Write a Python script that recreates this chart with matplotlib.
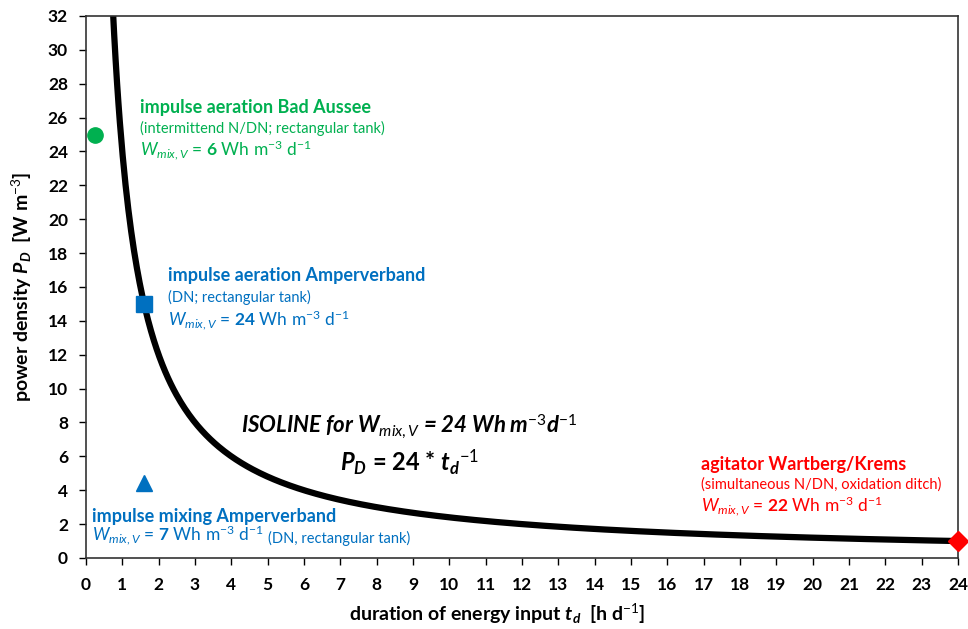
import matplotlib
matplotlib.use("Agg")
import matplotlib.pyplot as plt
import numpy as np

plt.rcParams["font.family"] = ["Lato", "DejaVu Sans"]
plt.rcParams["mathtext.fontset"] = "custom"
plt.rcParams["mathtext.rm"] = "Lato"
plt.rcParams["mathtext.it"] = "Lato:italic"
plt.rcParams["mathtext.bf"] = "Lato:bold"
try:
    plt.rcParams["mathtext.bfit"] = "Lato:italic:bold"
    BFIT = r"\mathbfit"
except KeyError:
    BFIT = r"\mathbf"

# isoline W_mix,V = 24 Wh m-3 d-1  ->  P_D = 24 / t_d
W_ISO = 24
t_iso = np.linspace(0.7, 24, 600)
p_iso = W_ISO / t_iso

# measured plants (t_d [h/d], P_D [W/m3])
sites = ["Bad Aussee", "Amperverband aeration", "Amperverband mixing", "Wartberg/Krems"]
site_t = [0.25, 1.6, 1.6, 24.0]
site_p = [25.0, 15.0, 4.4, 1.0]
site_w = [6, 24, 7, 22]
site_marker = ["o", "s", "^", "D"]
site_color = ["#00b050", "#0070c0", "#0070c0", "#ff0000"]

x_ticks = list(range(0, 25))
y_ticks = list(range(0, 33, 2))

GREEN, BLUE, RED = "#00b050", "#0070c0", "#ff0000"


def wmix(w):
    return r"$W_{mix,V}$ = $\mathbf{%d}$ Wh m$^{-3}$ d$^{-1}$" % w


fig = plt.figure(figsize=(9.68, 6.29), dpi=100)
ax = fig.add_axes([0.0888, 0.1129, 0.9009, 0.8617])

ax.plot(t_iso, p_iso, color="black", lw=4.5, solid_capstyle="butt", zorder=2)

for t, p, m, c in zip(site_t, site_p, site_marker, site_color):
    ax.plot(t, p, marker=m, color=c, ms=11 if m != "D" else 10, ls="none",
            clip_on=False, zorder=3)

ax.set_xlim(0, 24)
ax.set_ylim(0, 32)
ax.set_xticks(x_ticks)
ax.set_yticks(y_ticks)
ax.tick_params(direction="out", length=5, width=1, labelsize=12.5)
ax.tick_params(axis="x", pad=9)
ax.tick_params(axis="y", pad=8)
for lab in ax.get_xticklabels() + ax.get_yticklabels():
    lab.set_fontweight("bold")
for s in ax.spines.values():
    s.set_linewidth(1.2)
    s.set_color("#333333")

ax.set_xlabel(r"duration of energy input $%s{t_d}$  [h d$^{-1}$]" % BFIT,
              fontsize=14, fontweight="bold")
ax.xaxis.set_label_coords(0.471, -0.08)
ax.set_ylabel(r"power density $%s{P_D}$  [W m$^{-3}$]" % BFIT, fontsize=14,
              fontweight="bold", labelpad=10)

# annotations
ax.text(1.49, 26.6, "impulse aeration Bad Aussee", color=GREEN, fontsize=13,
        fontweight="bold", va="center")
ax.text(1.49, 25.35, "(intermittend N/DN; rectangular tank)", color=GREEN,
        fontsize=10.5, va="center")
ax.text(1.49, 24.05, wmix(site_w[0]), color=GREEN, fontsize=12.5, va="center")

ax.text(2.26, 16.7, "impulse aeration Amperverband", color=BLUE, fontsize=13,
        fontweight="bold", va="center")
ax.text(2.26, 15.4, "(DN; rectangular tank)", color=BLUE, fontsize=10.5,
        va="center")
ax.text(2.26, 14.05, wmix(site_w[1]), color=BLUE, fontsize=12.5, va="center")

ax.text(0.17, 2.42, "impulse mixing Amperverband", color=BLUE, fontsize=13,
        fontweight="bold", va="center")
w7 = ax.text(0.17, 1.0, wmix(site_w[2]), color=BLUE, fontsize=12.5,
             va="baseline")
ax.annotate("(DN, rectangular tank)", xy=(1, 0), xycoords=w7,
            xytext=(3, 3), textcoords="offset points", color=BLUE,
            fontsize=10.5, va="baseline")

ax.text(16.93, 5.49, "agitator Wartberg/Krems", color=RED, fontsize=13,
        fontweight="bold", va="center")
ax.text(16.93, 4.31, "(simultaneous N/DN, oxidation ditch)", color=RED,
        fontsize=10.5, va="center")
ax.text(16.93, 3.05, wmix(site_w[3]), color=RED, fontsize=12.5, va="center")

ax.text(8.9, 7.75, r"ISOLINE for W$_{mix,V}$ = 24 Wh m$^{-3}$d$^{-1}$",
        fontsize=16, fontweight="bold", fontstyle="italic", ha="center",
        va="center")
ax.text(8.9, 5.6, r"$%s{P_D}$ = 24 * $%s{t_d}^{-1}$" % (BFIT, BFIT),
        fontsize=17, fontweight="bold", ha="center", va="center")

fig.savefig("out.png", dpi=100)
